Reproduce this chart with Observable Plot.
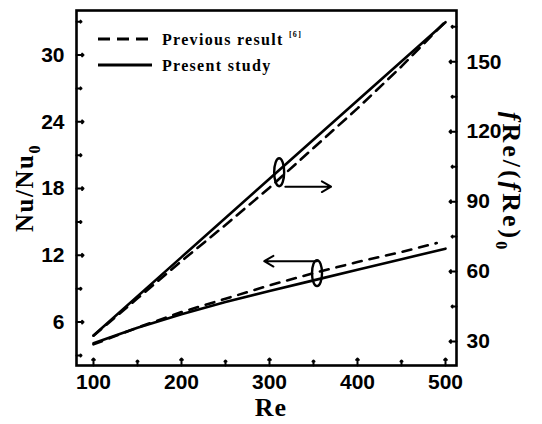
<!DOCTYPE html>
<html>
<head>
<meta charset="utf-8">
<script src="https://cdn.jsdelivr.net/npm/d3@7"></script>
<script src="https://cdn.jsdelivr.net/npm/@observablehq/plot@0.6"></script>
<style>
  html, body { margin: 0; padding: 0; background: #fff; }
  #chart { width: 542px; height: 424px; }
</style>
</head>
<body>
<div id="chart"></div>
<script>
// ---- data ----
const reTicks = [100, 200, 300, 400, 500];
const reMinor = [150, 250, 350, 450];
const nuTicks = [6, 12, 18, 24, 30];
const nuMinor = [3, 9, 15, 21, 27, 33];
const fReTicks = [30, 60, 90, 120, 150];
const fReMinor = [45, 75, 105, 135, 165];

// Nu/Nu0 (left axis)
const nuPresentRe = [100, 150, 200, 250, 300, 350, 400, 450, 500];
const nuPresent   = [4.1, 5.5, 6.7, 7.8, 8.8, 9.75, 10.7, 11.65, 12.6];
const nuPreviousRe = [100, 150, 200, 250, 300, 350, 400, 450, 490];
const nuPrevious   = [4.0, 5.5, 6.9, 8.1, 9.3, 10.4, 11.4, 12.3, 13.1];

// fRe/(fRe)0 (right axis)
const fRePresentRe = [100, 200, 300, 400, 500];
const fRePresent   = [32.6, 66.2, 99.8, 133.4, 167];
const fRePreviousRe = [100, 150, 200, 250, 300, 350, 400, 450, 498];
const fRePrevious   = [32.5, 48.5, 64.5, 80, 96, 113, 130, 148, 166.5];

// annotations: ellipse marks and arrows
const ellipseUpper = {re: 311, fRe: 102.6};
const ellipseLower = {re: 354, nu: 10.4};
const arrowUpper = {re1: 318, re2: 370, fRe: 96.4};
const arrowLower = {re1: 354, re2: 294, nu: 11.47};

// ---- scales ----
const nuDomain = [2.1, 34];
const fReDomain = [19.7, 172];
const toNu = f => nuDomain[0] + (f - fReDomain[0]) / (fReDomain[1] - fReDomain[0]) * (nuDomain[1] - nuDomain[0]);
const fromNu = n => fReDomain[0] + (n - nuDomain[0]) / (nuDomain[1] - nuDomain[0]) * (fReDomain[1] - fReDomain[0]);

const zip = (xs, ys, conv = v => v) => xs.map((x, i) => ({re: x, v: conv(ys[i])}));
const nuP = zip(nuPresentRe, nuPresent);
const nuV = zip(nuPreviousRe, nuPrevious);
const fP = zip(fRePresentRe, fRePresent, toNu);
const fV = zip(fRePreviousRe, fRePrevious, toNu);

const k = 0.5523;
const ellipseSymbol = (rx, ry) => ({
  draw(ctx) {
    ctx.moveTo(0, -ry);
    ctx.bezierCurveTo(k * rx, -ry, rx, -k * ry, rx, 0);
    ctx.bezierCurveTo(rx, k * ry, k * rx, ry, 0, ry);
    ctx.bezierCurveTo(-k * rx, ry, -rx, k * ry, -rx, 0);
    ctx.bezierCurveTo(-rx, -k * ry, -k * rx, -ry, 0, -ry);
    ctx.closePath();
  }
});

const sw = 2.6;
const tickOpts = {anchor: "start", stroke: "black", strokeWidth: 2};
const fs = 21;

const svg = Plot.plot({
  width: 542,
  height: 424,
  marginLeft: 76,
  marginRight: 86,
  marginTop: 10,
  marginBottom: 59,
  style: {fontFamily: "'Liberation Sans', Arial, sans-serif", fontSize: fs + "px", fontWeight: "bold", background: "white", color: "black"},
  x: {domain: [80.7, 512.5], label: null},
  y: {domain: nuDomain, label: null},
  marks: [
    // tick labels
    Plot.axisX(reTicks, {tickSize: 0, tickPadding: 9, fontSize: fs, fontWeight: "bold", label: null}),
    Plot.axisY(nuTicks, {anchor: "left", tickSize: 0, tickPadding: 12, fontSize: fs, fontWeight: "bold", label: null}),
    Plot.axisY(fReTicks.map(toNu), {anchor: "right", tickSize: 0, tickPadding: 10, fontSize: fs, fontWeight: "bold", label: null, tickFormat: d => Math.round(fromNu(d))}),
    // inward ticks
    Plot.vector(reTicks, {x: d => d, frameAnchor: "bottom", length: 7, rotate: 0, ...tickOpts}),
    Plot.vector(reMinor, {x: d => d, frameAnchor: "bottom", length: 5, rotate: 0, ...tickOpts}),
    Plot.vector(nuTicks, {y: d => d, frameAnchor: "left", length: 7, rotate: 90, ...tickOpts}),
    Plot.vector(nuMinor, {y: d => d, frameAnchor: "left", length: 5, rotate: 90, ...tickOpts}),
    Plot.vector(fReTicks.map(toNu), {y: d => d, frameAnchor: "right", length: 7, rotate: -90, ...tickOpts}),
    Plot.vector(fReMinor.map(toNu), {y: d => d, frameAnchor: "right", length: 5, rotate: -90, ...tickOpts}),
    // data lines
    Plot.line(fV, {x: "re", y: "v", stroke: "black", strokeWidth: sw, strokeDasharray: "10,7"}),
    Plot.line(fP, {x: "re", y: "v", stroke: "black", strokeWidth: sw}),
    Plot.line(nuV, {x: "re", y: "v", stroke: "black", strokeWidth: sw, strokeDasharray: "9,8"}),
    Plot.line(nuP, {x: "re", y: "v", stroke: "black", strokeWidth: sw}),
    // annotations
    Plot.dot([ellipseUpper], {x: "re", y: d => toNu(d.fRe), symbol: ellipseSymbol(5, 14), fill: "none", stroke: "black", strokeWidth: 2.4}),
    Plot.dot([ellipseLower], {x: "re", y: "nu", symbol: ellipseSymbol(5, 13), fill: "none", stroke: "black", strokeWidth: 2.4}),
    Plot.arrow([arrowUpper], {x1: "re1", x2: "re2", y1: d => toNu(d.fRe), y2: d => toNu(d.fRe), stroke: "black", strokeWidth: 2, headLength: 8}),
    Plot.arrow([arrowLower], {x1: "re1", x2: "re2", y1: "nu", y2: "nu", stroke: "black", strokeWidth: 2, headLength: 8}),
    Plot.frame({stroke: "black", strokeWidth: 2.6})
  ]
});

document.getElementById("chart").appendChild(svg);

// ---- titles and legend ----
const root = d3.select(svg);
const serif = "'Liberation Serif', 'Times New Roman', serif";

// x title
root.append("text")
  .attr("x", 271).attr("y", 416)
  .attr("text-anchor", "middle")
  .attr("font-family", serif).attr("font-weight", "bold").attr("font-size", 26)
  .attr("letter-spacing", 1)
  .attr("fill", "black")
  .text("Re");

// left title
const lt = root.append("text")
  .attr("transform", "translate(33,188) rotate(-90)")
  .attr("text-anchor", "middle")
  .attr("font-family", serif).attr("font-weight", "bold").attr("font-size", 25)
  .attr("letter-spacing", 1.5)
  .attr("fill", "black");
lt.append("tspan").text("Nu/Nu");
lt.append("tspan").attr("dy", 7).attr("font-size", 16).text("0");

// right title
const rt = root.append("text")
  .attr("transform", "translate(503,182) rotate(90)")
  .attr("text-anchor", "middle")
  .attr("font-family", serif).attr("font-weight", "bold").attr("font-size", 26)
  .attr("letter-spacing", 3)
  .attr("fill", "black");
rt.append("tspan").attr("font-style", "italic").text("f");
rt.append("tspan").text("Re/(");
rt.append("tspan").attr("font-style", "italic").text("f");
rt.append("tspan").text("Re)");
rt.append("tspan").attr("dy", 7).attr("font-size", 16).text("0");

// legend
const lg = root.append("g").attr("font-family", serif).attr("font-weight", "bold").attr("font-size", 16).attr("fill", "black").attr("text-anchor", "start");
lg.append("line").attr("x1", 98).attr("x2", 152).attr("y1", 39).attr("y2", 39)
  .attr("stroke", "black").attr("stroke-width", 3).attr("stroke-dasharray", "12,7");
lg.append("line").attr("x1", 98).attr("x2", 152).attr("y1", 65).attr("y2", 65)
  .attr("stroke", "black").attr("stroke-width", 3);
const l1 = lg.append("text").attr("x", 162).attr("y", 45).attr("letter-spacing", 1.3).attr("text-anchor", "start");
l1.append("tspan").text("Previous result ");
l1.append("tspan").attr("dy", -8).attr("font-size", 8).text("[6]");
lg.append("text").attr("x", 162).attr("y", 71).attr("letter-spacing", 1.3).attr("text-anchor", "start").text("Present study");
</script>
</body>
</html>
